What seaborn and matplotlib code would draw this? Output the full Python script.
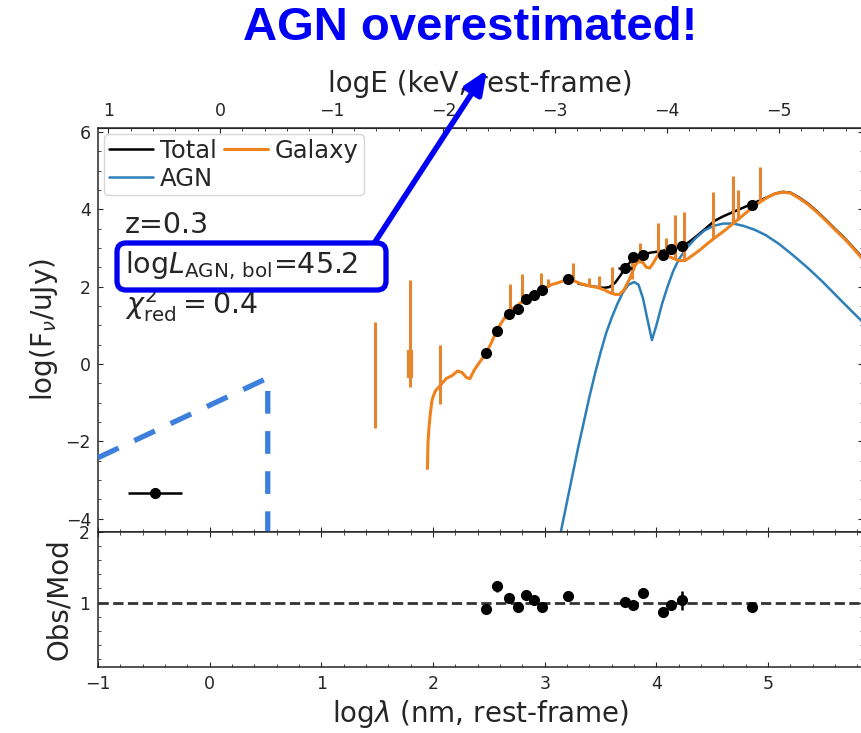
import numpy as np
import pandas as pd
import matplotlib
matplotlib.use("Agg")
import matplotlib.pyplot as plt
import seaborn as sns
from matplotlib.ticker import AutoMinorLocator
from matplotlib.patches import FancyBboxPatch
from matplotlib.transforms import IdentityTransform

# ---------------- data ----------------
# Galaxy template continuum (log lambda [nm], log Fnu [uJy])
gal_x = [1.95, 1.955, 1.965, 1.975, 1.99, 2.00, 2.02, 2.05, 2.08, 2.12, 2.17, 2.22,
         2.26, 2.30, 2.33, 2.37, 2.41, 2.45, 2.49, 2.53, 2.57, 2.62, 2.66, 2.71, 2.75,
         2.80, 2.85, 2.90, 2.98, 3.06, 3.14, 3.21, 3.27, 3.33, 3.40, 3.47, 3.53, 3.58,
         3.63, 3.67, 3.71, 3.76, 3.81, 3.85, 3.88, 3.91, 3.94, 3.97, 4.01, 4.06, 4.11,
         4.16, 4.21, 4.26, 4.32, 4.39, 4.46, 4.54, 4.62, 4.69, 4.77, 4.84, 4.92, 4.99,
         5.06, 5.13, 5.20, 5.28, 5.36, 5.44, 5.52, 5.60, 5.68, 5.76, 5.86]
gal_y = [-2.7, -2.0, -1.6, -1.3, -0.95, -0.85, -0.7, -0.6, -0.5, -0.37, -0.3, -0.18,
         -0.22, -0.35, -0.38, -0.15, 0.02, 0.18, 0.36, 0.6, 0.88, 1.1, 1.28, 1.42, 1.5,
         1.62, 1.72, 1.82, 1.94, 2.05, 2.12, 2.2, 2.14, 2.07, 2.02, 1.98, 1.92, 1.85,
         1.8, 1.8, 1.92, 2.2, 2.55, 2.7, 2.62, 2.5, 2.48, 2.6, 2.8, 2.85, 2.78,
         2.72, 2.67, 2.68, 2.8, 2.95, 3.12, 3.3, 3.47, 3.64, 3.83, 4.0, 4.17, 4.3,
         4.4, 4.44, 4.42, 4.28, 4.12, 3.92, 3.7, 3.47, 3.25, 3.0, 2.67]

# Galaxy emission-line spikes: position, bottom, top
spk_x = [1.48, 1.79, 2.06, 2.69, 2.80, 2.97, 3.03, 3.25, 3.40, 3.49, 3.60, 3.78,
         3.85, 4.01, 4.09, 4.17, 4.25, 4.51, 4.69, 4.73, 4.93]
spk_lo = [-1.66, -0.59, -1.03, 1.35, 1.62, 1.93, 2.0, 2.15, 2.02, 1.97, 1.82, 2.2,
          2.6, 2.8, 2.82, 2.72, 2.67, 3.25, 3.64, 3.72, 4.18]
spk_hi = [1.09, 2.17, 0.49, 2.07, 2.34, 2.36, 2.2, 2.61, 2.22, 2.27, 2.5, 2.77,
          3.12, 3.64, 3.26, 3.85, 3.93, 4.44, 4.86, 4.5, 5.09]

# AGN component
agn_x = [3.14, 3.20, 3.25, 3.30, 3.35, 3.40, 3.45, 3.50, 3.55, 3.60, 3.65, 3.70, 3.75,
         3.80, 3.84, 3.88, 3.92, 3.96, 4.00, 4.05, 4.10, 4.15, 4.20, 4.27, 4.35, 4.43,
         4.51, 4.60, 4.69, 4.78, 4.88, 4.98, 5.10, 5.22, 5.35, 5.48, 5.60, 5.72, 5.86]
agn_y = [-4.4, -3.55, -2.85, -2.15, -1.5, -0.85, -0.25, 0.3, 0.8, 1.2, 1.55, 1.85, 2.05,
         2.12, 2.05, 1.7, 1.15, 0.62, 1.0, 1.55, 2.0, 2.4, 2.7, 3.0, 3.25, 3.45,
         3.57, 3.63, 3.63, 3.57, 3.47, 3.33, 3.1, 2.82, 2.5, 2.15, 1.8, 1.45, 1.05]

# Total model
tot_x = [3.30, 3.40, 3.47, 3.53, 3.58, 3.63, 3.68, 3.72, 3.76, 3.80, 3.85, 3.90, 3.95,
         4.00, 4.06, 4.12, 4.18, 4.24, 4.30, 4.37, 4.44, 4.52, 4.60, 4.68, 4.76, 4.84,
         4.92, 5.00, 5.06, 5.13, 5.20, 5.28, 5.36, 5.44, 5.52, 5.60, 5.68, 5.76, 5.86]
tot_y = [2.08, 2.02, 1.99, 1.97, 1.99, 2.1, 2.3, 2.48, 2.62, 2.72, 2.8, 2.85, 2.88,
         2.9, 2.93, 2.97, 3.0, 3.06, 3.17, 3.33, 3.5, 3.7, 3.82, 3.92, 4.02, 4.12,
         4.22, 4.32, 4.4, 4.45, 4.43, 4.3, 4.14, 3.94, 3.72, 3.49, 3.27, 3.02, 2.7]

# Photometry
obs_x = [2.47, 2.57, 2.68, 2.76, 2.83, 2.90, 2.98, 3.21, 3.72, 3.79, 3.88, 4.06, 4.13, 4.23, 4.86]
obs_y = [0.28, 0.86, 1.29, 1.43, 1.69, 1.78, 1.91, 2.2, 2.48, 2.76, 2.82, 2.82, 2.97, 3.05, 4.11]
obs_xerr = [0.0, 0.03, 0.0, 0.0, 0.0, 0.0, 0.0, 0.0, 0.06, 0.0, 0.0, 0.0, 0.0, 0.0, 0.0]
obs_yerr = [0.04, 0.04, 0.03, 0.03, 0.03, 0.03, 0.03, 0.04, 0.03, 0.03, 0.03, 0.03, 0.03, 0.06, 0.03]
ratio = [0.91, 1.23, 1.06, 0.93, 1.11, 1.04, 0.94, 1.09, 1.01, 0.96, 1.13, 0.86, 0.96, 1.03, 0.94]
ratio_err = [0.06, 0.08, 0.06, 0.05, 0.06, 0.06, 0.06, 0.07, 0.05, 0.05, 0.05, 0.05, 0.06, 0.14, 0.06]

# X-ray point
xr_x, xr_y, xr_xerr = [-0.49], [-3.34], [0.24]

# Hand-drawn dashed annotation (data coords)
dash_x = [-1.0, 0.52, 0.52]
dash_y = [-2.42, -0.36, -4.34]

# ---------------- figure ----------------
sns.set_style("ticks")
plt.rcParams["font.family"] = ["DejaVu Sans"]
plt.rcParams["mathtext.fontset"] = "dejavusans"

W, H = 862, 733
fig = plt.figure(figsize=(W / 100, H / 100), dpi=100)
ax = fig.add_axes([98 / W, (H - 532) / H, (863 - 98) / W, (532 - 128) / H])
axr = fig.add_axes([98 / W, (H - 667) / H, (863 - 98) / W, (667 - 532) / H], sharex=ax)

orange = "#f0821e"
blue = "#2c7fb8"

sns.lineplot(x=tot_x, y=tot_y, ax=ax, color="black", lw=1.8, label="Total",
             sort=False, estimator=None)
sns.lineplot(x=agn_x, y=agn_y, ax=ax, color=blue, lw=1.8, label="AGN",
             sort=False, estimator=None)
sns.lineplot(x=gal_x, y=gal_y, ax=ax, color=orange, lw=2.2, label="Galaxy",
             sort=False, estimator=None)
ax.vlines(spk_x, spk_lo, spk_hi, color="#e3862e", lw=2.2, zorder=3)
ax.vlines([1.79], [-0.36], [0.36], color="#e3862e", lw=4.5, zorder=3)

ax.errorbar(obs_x, obs_y, xerr=obs_xerr, yerr=obs_yerr, fmt="o", color="black",
            ms=7, elinewidth=1.8, capsize=0, zorder=5)
ax.errorbar(xr_x, xr_y, xerr=xr_xerr, fmt="o", color="black", ms=7,
            elinewidth=1.8, capsize=0, zorder=5)

ax.plot(dash_x, dash_y, color="#3d7fdc", lw=3.8, ls=(0, (4.3, 3.3)),
        solid_capstyle="butt", dash_capstyle="butt", zorder=6, clip_on=False)

ax.set_xlim(-1, 5.85)
ax.set_ylim(-4.34, 6.1)
ax.set_yticks([-4, -2, 0, 2, 4, 6])
ax.yaxis.set_minor_locator(AutoMinorLocator(4))
ax.xaxis.set_minor_locator(AutoMinorLocator(5))
ax.tick_params(which="both", direction="in", bottom=True, right=True, top=False,
               labelbottom=False, labelsize=12.5, pad=5)
ax.set_ylabel(r"log(F$_\nu$/uJy)", fontsize=20)
ax.set_xlabel("")

sec = ax.secondary_xaxis("top", functions=(lambda x: 0.0934 - x, lambda x: 0.0934 - x))
sec.set_xticks([1, 0, -1, -2, -3, -4, -5])
sec.xaxis.set_minor_locator(AutoMinorLocator(5))
sec.tick_params(which="both", direction="in", labelsize=12.5, pad=6)
sec.set_xlabel("logE (keV, rest-frame)", fontsize=20, labelpad=7)

leg = ax.legend(loc="upper left", ncol=2, fontsize=17.5, handlelength=1.8,
                handletextpad=0.3, columnspacing=0.3, labelspacing=0.15,
                borderpad=0.2, borderaxespad=0.25, frameon=True)

ax.text(-0.76, 3.6, "z=0.3", fontsize=20.5, va="center", ha="left")
ax.text(-0.76, 2.53, r"log$L_{\rm AGN,\,bol}$=45.2", fontsize=20.5, va="center", ha="left")
ax.text(-0.76, 1.52, r"$\chi^2_{\rm red}=0.4$", fontsize=20.5, va="center", ha="left")

# hand-drawn highlight box (pixel coordinates of the picture)
box = FancyBboxPatch((117, H - 290), 269, 47, boxstyle="round,pad=0,rounding_size=9",
                     transform=IdentityTransform(), fc="none", ec="#0000ee", lw=3.8,
                     zorder=10)
fig.add_artist(box)

# ratio panel
axr.axhline(1, color="#333333", lw=2, ls="--", zorder=1)
axr.errorbar(obs_x, ratio, yerr=ratio_err, fmt="o", color="black", ms=7,
             elinewidth=1.8, capsize=0, zorder=5)
axr.set_ylim(0.086, 2.0)
axr.set_yticks([1, 2])
axr.yaxis.set_minor_locator(AutoMinorLocator(5))
axr.set_xticks([-1, 0, 1, 2, 3, 4, 5])
axr.tick_params(which="both", direction="in", top=True, right=True, labelsize=12.5, pad=6)
axr.set_ylabel("Obs/Mod", fontsize=20)
axr.set_xlabel(r"log$\lambda$ (nm, rest-frame)", fontsize=20, labelpad=3)

for a in (ax, axr):
    for s in a.spines.values():
        s.set_linewidth(1.1)

# title and arrow
fig.text(470 / W, 1 - 28 / H, "AGN overestimated!", fontsize=34, fontweight="bold",
         family=["Liberation Sans", "DejaVu Sans"], color="#0000f5", ha="center", va="center")
ax.annotate("", xy=(487 / W, 1 - 70 / H), xytext=(375 / W, 1 - 242 / H),
            xycoords="figure fraction", textcoords="figure fraction",
            arrowprops=dict(arrowstyle="-|>,head_length=1.4,head_width=0.6", color="#0000f5",
                            lw=4, shrinkA=0, shrinkB=0), annotation_clip=False)

fig.savefig("out.png", dpi=100)
